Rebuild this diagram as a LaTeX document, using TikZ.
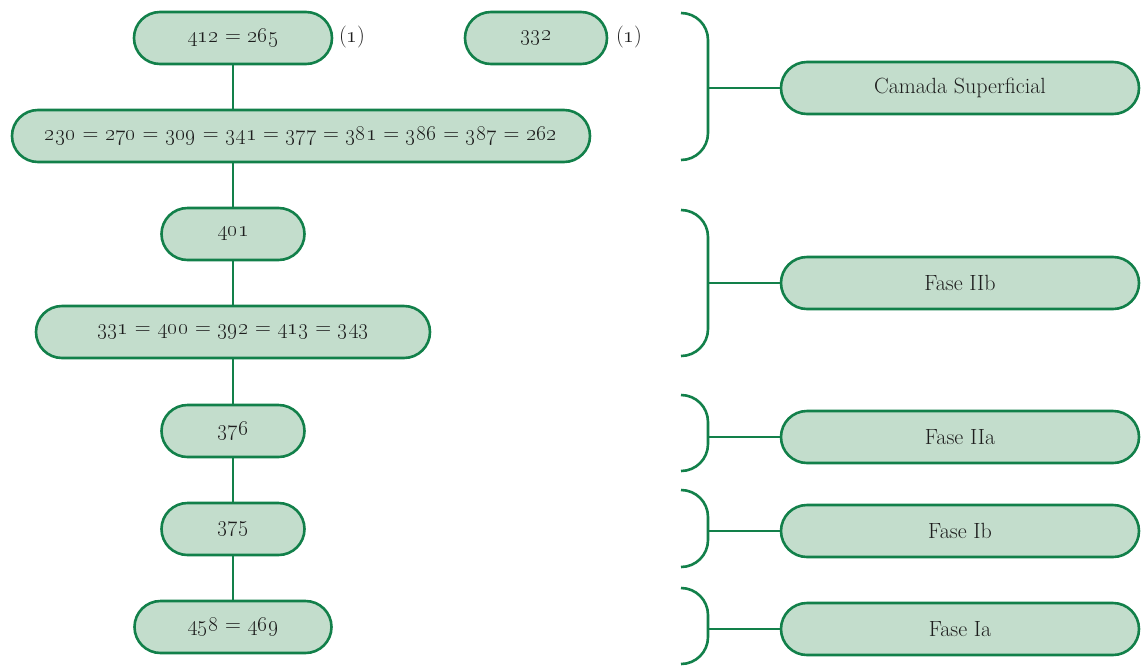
\RequirePackage{fix-cm}
\documentclass[tikz,border=0pt]{standalone}
\definecolor{dg}{HTML}{12804A}
\definecolor{lg}{HTML}{C3DDCC}
\definecolor{tx}{HTML}{1E1E1E}
\newcommand\osn[1]{\oldstylenums{#1}}
\begin{document}
\begin{tikzpicture}[x=1pt,y=-1pt,
  box/.style={draw=dg, fill=lg, line width=2.6pt, rounded corners=26pt, minimum height=52pt, inner sep=0pt, text=tx, font=\fontsize{22}{26}\selectfont},
  ln/.style={draw=dg, line width=2.6pt},
  brk/.style={draw=dg, line width=2.6pt, rounded corners=27pt},
  lbl/.style={text=tx, font=\fontsize{22}{26}\selectfont, inner sep=0pt}]
\useasboundingbox (0,0) rectangle (1141,665);
% left column
\node[box, minimum width=198pt] (a) at (233,38) {\osn{412} = \osn{265}};
\node[lbl] (ai) at (352,37) {(\osn{1})};
\node[box, minimum width=142pt] (b) at (536,38) {\osn{332}};
\node[lbl] (bi) at (629,37) {(\osn{1})};
\node[box, minimum width=578pt] (c) at (301,136) {\osn{230} = \osn{270} = \osn{309} = \osn{341} = \osn{377} = \osn{381} = \osn{386} = \osn{387} = \osn{262}};
\node[box, minimum width=143pt] (d) at (233,234) {\osn{401}};
\node[box, minimum width=394pt] (e) at (233,332) {\osn{331} = \osn{400} = \osn{392} = \osn{413} = \osn{343}};
\node[box, minimum width=143pt] (f) at (233,431) {\osn{376}};
\node[box, minimum width=143pt] (g) at (233,529) {\osn{375}};
\node[box, minimum width=197pt] (h) at (233,627) {\osn{458} = \osn{469}};
\draw[ln] (a.south) -- (a.south |- c.north);
\draw[ln] (d.north |- c.south) -- (d.north);
\draw[ln] (d.south) -- (e.north -| d.south);
\draw[ln] (f.north |- e.south) -- (f.north);
\draw[ln] (f.south) -- (g.north);
\draw[ln] (g.south) -- (h.north);
% right column
\node[box, minimum width=358pt] (r1) at (960,88) {Camada Superficial};
\node[box, minimum width=358pt] (r2) at (960,283) {Fase IIb};
\node[box, minimum width=358pt] (r3) at (960,437) {Fase IIa};
\node[box, minimum width=358pt] (r4) at (960,531) {Fase Ib};
\node[box, minimum width=358pt] (r5) at (960,629) {Fase Ia};
% brackets
\draw[brk] (681,13) -- (708,13) -- (708,160) -- (681,160);
\draw[brk] (681,210) -- (708,210) -- (708,356) -- (681,356);
\draw[brk] (681,395) -- (708,395) -- (708,471) -- (681,471);
\draw[brk] (681,490) -- (708,490) -- (708,567) -- (681,567);
\draw[brk] (681,588) -- (708,588) -- (708,664) -- (681,664);
\coordinate (k1) at (708,88);
\coordinate (k2) at (708,283);
\coordinate (k3) at (708,437);
\coordinate (k4) at (708,531);
\coordinate (k5) at (708,629);
\draw[ln] (k1) -- (r1.west);
\draw[ln] (k2) -- (r2.west);
\draw[ln] (k3) -- (r3.west);
\draw[ln] (k4) -- (r4.west);
\draw[ln] (k5) -- (r5.west);
\end{tikzpicture}
\end{document}
